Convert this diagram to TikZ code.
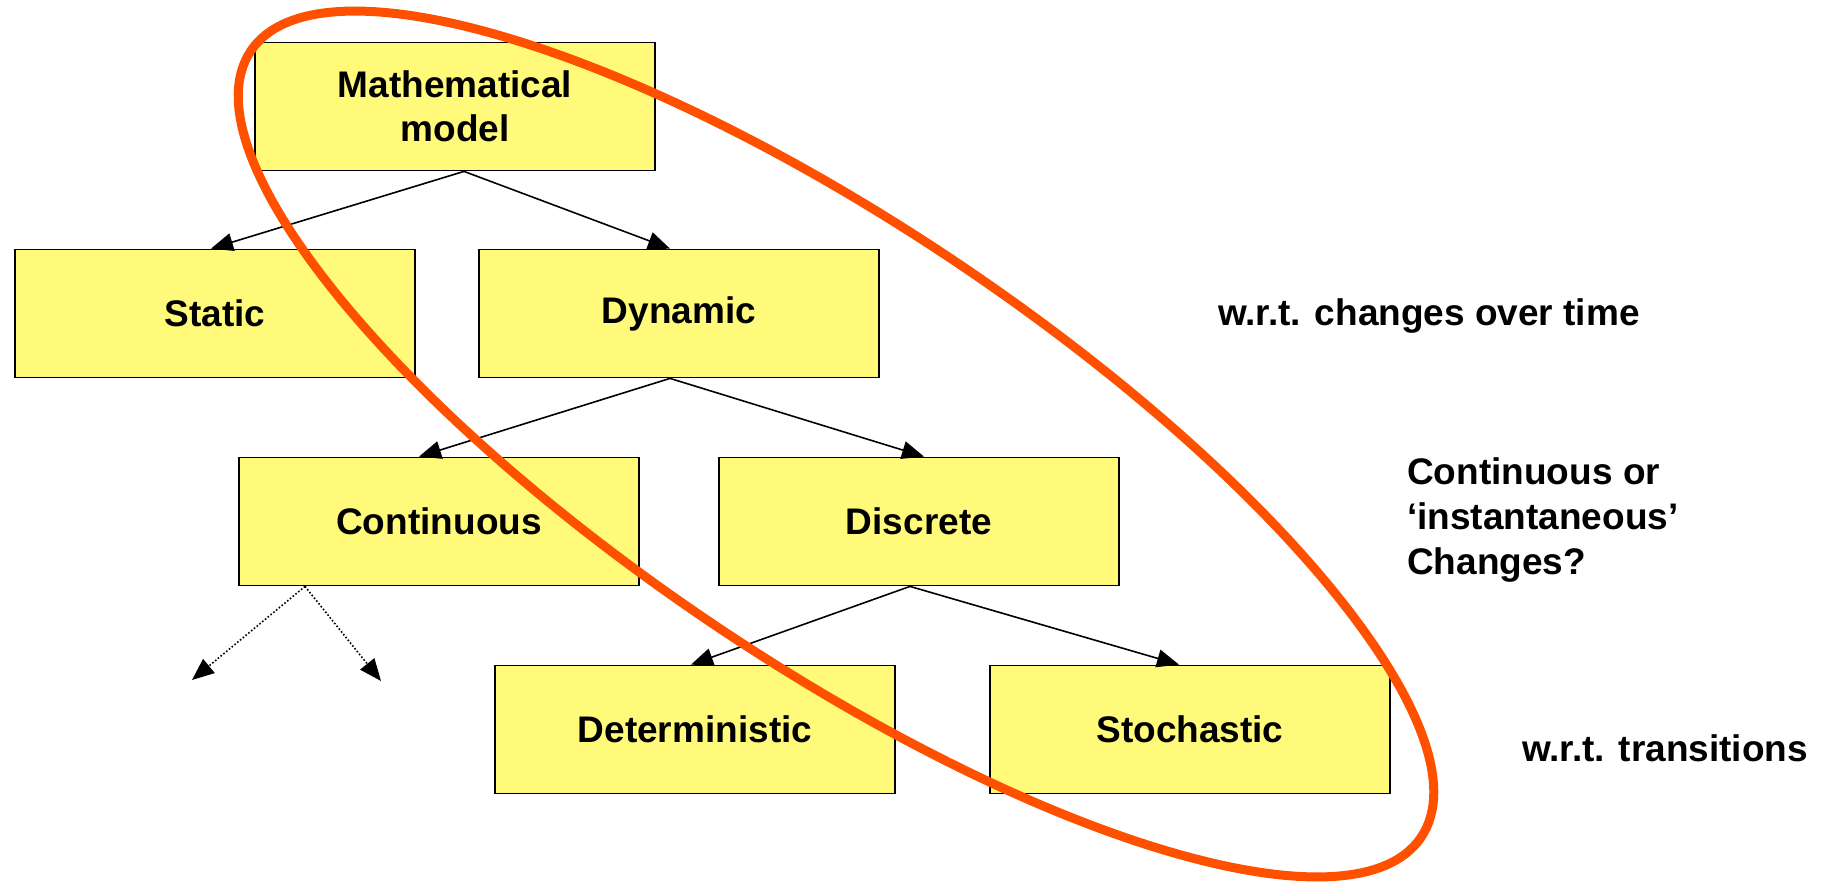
\documentclass[tikz,border=0pt]{standalone}
\usepackage{fontspec}
\setmainfont{Liberation Sans}
\usetikzlibrary{arrows.meta}
\definecolor{boxyellow}{RGB}{255,250,122}
\definecolor{ringorange}{RGB}{255,80,0}
\begin{document}
\begin{tikzpicture}[x=1pt,y=-1pt,
  box/.style={draw=black, line width=1.8pt, fill=boxyellow, minimum width=400pt, minimum height=128pt, inner sep=0pt, align=center, font=\fontsize{37}{44}\selectfont\bfseries},
  note/.style={anchor=west, inner sep=0pt, align=left, font=\fontsize{37}{45}\selectfont\bfseries},
  link/.style={line width=1.6pt, -{Triangle[length=22pt,width=18pt]}},
  hint/.style={link, dotted},
  ring/.style={draw=ringorange, line width=9pt}]
\useasboundingbox (0,0) rectangle (1827,886);

\node[box] (math)  at (455,106.5) {Mathematical\\model};
\node[box] (static) at (215,313.5) {Static};
\node[box] (dyn)   at (679,313.5) {Dynamic};
\node[box] (cont)  at (439,521.5) {Continuous};
\node[box] (disc)  at (919,521.5) {Discrete};
\node[box] (det)   at (695,729.5) {Deterministic};
\node[box] (stoch) at (1190,729.5) {Stochastic};

\node[note] (t1) at (1218,316) {w.r.t. changes over time};
\node[note] (t2) at (1407,520) {Continuous or\\‘instantaneous’\\Changes?};
\node[note] (t3) at (1522,748) {w.r.t. transitions};

\coordinate (free1) at (192,680);
\coordinate (free2) at (381,681);

\draw[link] ([xshift=9pt]math.south) -- ([xshift=-4pt]static.north);
\draw[link] ([xshift=9pt]math.south) -- ([xshift=-9pt]dyn.north);
\draw[link] ([xshift=-9pt]dyn.south) -- ([xshift=-20pt]cont.north);
\draw[link] ([xshift=-9pt]dyn.south) -- ([xshift=5pt]disc.north);
\draw[link] ([xshift=-9pt]disc.south) -- ([xshift=-4pt]det.north);
\draw[link] ([xshift=-9pt]disc.south) -- ([xshift=-11pt]stoch.north);
\draw[hint] ([xshift=-134pt]cont.south) -- (free1);
\draw[hint] ([xshift=-134pt]cont.south) -- (free2);

\draw[ring, rotate around={-33.9:(836,444)}] (836,444) ellipse [x radius=705, y radius=218];
\end{tikzpicture}
\end{document}
